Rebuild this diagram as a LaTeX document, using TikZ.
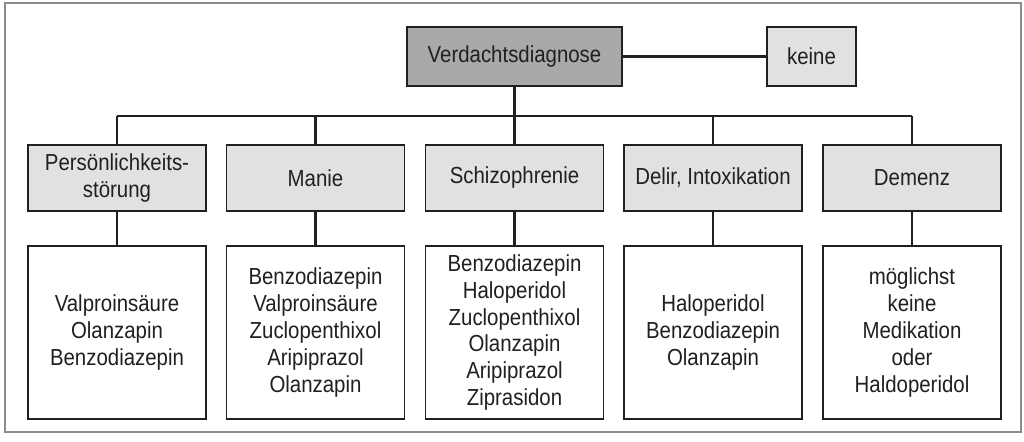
\documentclass[tikz,border=0pt]{standalone}
\usepackage{fontspec}
\setmainfont{Liberation Sans}[FakeStretch=0.88]
\definecolor{rahmen}{HTML}{8C8C8C}
\definecolor{strich}{HTML}{231F20}
\definecolor{hell}{HTML}{E1E1E2}
\definecolor{dunkel}{HTML}{A9A9AB}
\tikzset{
  kasten/.style={draw=strich, line width=0.7pt, inner sep=0pt, align=center,
    text=strich, font=\fontsize{11.6}{13.4}\selectfont},
  diagbox/.style={kasten, fill=dunkel, minimum width=107.5pt, minimum height=29.5pt},
  keinebox/.style={kasten, fill=hell, minimum width=44.5pt, minimum height=29.5pt},
  katbox/.style={kasten, fill=hell, minimum width=89pt, minimum height=33pt},
  medbox/.style={kasten, fill=white, minimum width=89pt, minimum height=86.5pt},
  verb/.style={draw=strich, line width=1.2pt}
}
\begin{document}
\begin{tikzpicture}[x=0.5pt, y=-0.5pt]
    \useasboundingbox (0,0) rectangle (1024,442);
    \draw[rahmen, line width=1.1pt] (5,3) rectangle (1021,432);
    \node[diagbox] (vd) at (514.5,56.5) {Verdachtsdiagnose};
    \node[keinebox] (keine) at (811.5,56.5) {keine};
    \draw[verb] (vd) -- (keine);
    \coordinate (bus) at (514.5,116);
    \foreach \i/\x/\kat/\med in {
        1/117/{Persönlichkeits-\\störung}/{Valproinsäure\\Olanzapin\\Benzodiazepin},
        2/315.5/{Manie}/{Benzodiazepin\\Valproinsäure\\Zuclopenthixol\\Aripiprazol\\Olanzapin},
        3/514.5/{Schizophrenie}/{Benzodiazepin\\Haloperidol\\Zuclopenthixol\\Olanzapin\\Aripiprazol\\Ziprasidon},
        4/713/{Delir, Intoxikation}/{Haloperidol\\Benzodiazepin\\Olanzapin},
        5/912/{Demenz}/{möglichst\\keine\\Medikation\\oder\\Haldoperidol}} {
            \node[katbox] (k\i) at (\x,178) {\kat};
            \node[medbox] (m\i) at (\x,332.5) {\med};
            \draw[verb] (k\i) -- (m\i);
            \draw[verb] (k\i.north) -- (k\i.north |- bus);
        }
    \draw[verb] (vd) -- (bus);
    \draw[verb] (k1.north |- bus) -- (k5.north |- bus);
\end{tikzpicture}
\end{document}
